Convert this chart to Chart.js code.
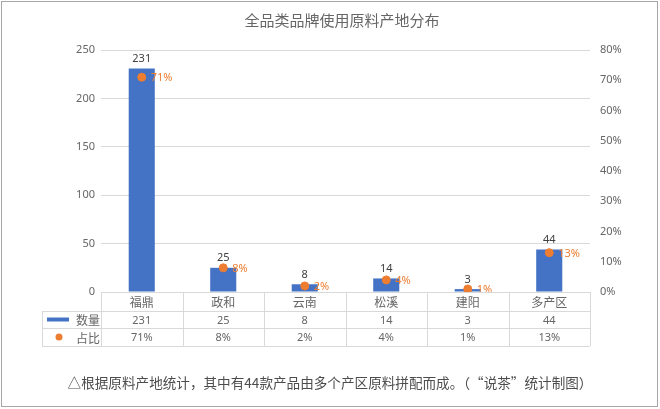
<!DOCTYPE html>
<html>
<head>
<meta charset="utf-8">
<script src="https://cdn.jsdelivr.net/npm/chart.js@4"></script>
<style>
  html, body { margin: 0; padding: 0; background: #fff; }
  #c { display: block; }
</style>
</head>
<body>
<canvas id="c" width="660" height="409"></canvas>
<script>
// data
const categories = ['福鼎', '政和', '云南', '松溪', '建阳', '多产区'];
const counts = [231, 25, 8, 14, 3, 44];
const shares = [0.71, 0.08, 0.02, 0.04, 0.01, 0.13];
const countMax = 250, countStep = 50;
const shareMax = 0.8, shareStep = 0.1;

const titleText = '全品类品牌使用原料产地分布';
const captionText = '△根据原料产地统计，其中有44款产品由多个产区原料拼配而成。（“说茶”统计制图）';

const blue = '#4472C4';
const orange = '#ED7D31';
const grey = '#666666';
const lineCol = '#d9d9d9';
const cjk = '"Noto Sans CJK SC", "Noto Sans", sans-serif';
const num = '"Noto Sans", "Liberation Sans", sans-serif';

const pct = v => Math.round(v * 100) + '%';

// draws the title, labels, data table and caption
const extras = {
  id: 'extras',
  afterDraw(chart) {
    const ctx = chart.ctx;
    const area = chart.chartArea;
    const x = chart.scales.x;
    const barMeta = chart.getDatasetMeta(0);
    const dotMeta = chart.getDatasetMeta(1);
    ctx.save();

    // outer frame
    ctx.strokeStyle = '#a6a6a6';
    ctx.lineWidth = 1;
    ctx.strokeRect(1.5, 1.5, 656, 405);

    // title
    ctx.fillStyle = grey;
    ctx.font = '15px ' + cjk;
    ctx.textAlign = 'center';
    ctx.textBaseline = 'middle';
    ctx.fillText(titleText, 342, 20);

    // bar value labels
    ctx.font = '11px ' + num;
    ctx.fillStyle = '#404040';
    ctx.textBaseline = 'bottom';
    barMeta.data.forEach((bar, i) => {
      ctx.fillText(String(counts[i]), bar.x, bar.y - 4);
    });

    // share labels
    ctx.fillStyle = orange;
    ctx.textAlign = 'left';
    ctx.textBaseline = 'middle';
    dotMeta.data.forEach((pt, i) => {
      ctx.fillText(pct(shares[i]), pt.x + 9, pt.y + 1);
    });

    // data table
    const colW = (area.right - area.left) / categories.length;
    const r0 = area.bottom, r1 = r0 + 19, r2 = r1 + 17, r3 = r2 + 18;
    const legL = 42;
    ctx.strokeStyle = lineCol;
    ctx.lineWidth = 1;
    ctx.beginPath();
    ctx.moveTo(area.left, r0 + 0.5); ctx.lineTo(area.right, r0 + 0.5);
    [r1, r2, r3].forEach(r => { ctx.moveTo(legL, r + 0.5); ctx.lineTo(area.right, r + 0.5); });
    for (let i = 0; i <= categories.length; i++) {
      const vx = Math.round(area.left + i * colW) + 0.5;
      ctx.moveTo(vx, r0); ctx.lineTo(vx, r3);
    }
    ctx.moveTo(legL + 0.5, r1); ctx.lineTo(legL + 0.5, r3);
    ctx.stroke();

    ctx.fillStyle = grey;
    ctx.textAlign = 'center';
    ctx.textBaseline = 'middle';
    categories.forEach((c, i) => {
      const cx = x.getPixelForValue(i);
      ctx.font = '12px ' + cjk;
      ctx.fillText(c, cx, (r0 + r1) / 2 + 1);
      ctx.font = '11px ' + num;
      ctx.fillText(String(counts[i]), cx, (r1 + r2) / 2 + 1);
      ctx.fillText(pct(shares[i]), cx, (r2 + r3) / 2 + 1);
    });

    // legend keys in the table
    ctx.fillStyle = blue;
    ctx.fillRect(47, (r1 + r2) / 2 - 2, 22, 4);
    ctx.fillStyle = orange;
    ctx.beginPath();
    ctx.arc(59, (r2 + r3) / 2, 3.5, 0, Math.PI * 2);
    ctx.fill();
    ctx.fillStyle = grey;
    ctx.font = '12px ' + cjk;
    ctx.textAlign = 'right';
    ctx.fillText(chart.data.datasets[0].label, 100, (r1 + r2) / 2 + 1);
    ctx.fillText(chart.data.datasets[1].label, 100, (r2 + r3) / 2 + 1);

    // caption
    ctx.fillStyle = '#4d4d4d';
    ctx.font = '13.6px ' + cjk;
    ctx.textAlign = 'center';
    ctx.fillText(captionText, 330, 383);

    ctx.restore();
  }
};

new Chart(document.getElementById('c'), {
  type: 'bar',
  data: {
    labels: categories,
    datasets: [
      {
        type: 'bar',
        label: '数量',
        data: counts,
        backgroundColor: blue,
        yAxisID: 'y',
        categoryPercentage: 1,
        barPercentage: 0.32,
        order: 2
      },
      {
        type: 'line',
        label: '占比',
        data: shares,
        yAxisID: 'y2',
        showLine: false,
        pointRadius: 4,
        pointHoverRadius: 4,
        pointBackgroundColor: orange,
        pointBorderColor: orange,
        borderColor: orange,
        order: 1
      }
    ]
  },
  options: {
    responsive: false,
    animation: false,
    layout: { padding: { top: 50, bottom: 117, left: 0, right: 0 } },
    plugins: {
      legend: { display: false },
      title: { display: false },
      tooltip: { enabled: false }
    },
    scales: {
      x: { display: false, offset: true },
      y: {
        position: 'left',
        min: 0,
        max: countMax,
        ticks: { stepSize: countStep, color: grey, font: { size: 11, family: num }, padding: 6 },
        grid: { color: lineCol, drawTicks: false },
        border: { display: false },
        afterFit: s => { s.width = 101; }
      },
      y2: {
        position: 'right',
        min: 0,
        max: shareMax,
        ticks: { stepSize: shareStep, color: grey, font: { size: 11, family: num }, padding: 10, callback: v => pct(v) },
        grid: { display: false, drawTicks: false },
        border: { display: false },
        afterFit: s => { s.width = 70; }
      }
    }
  },
  plugins: [extras]
});
</script>
</body>
</html>
